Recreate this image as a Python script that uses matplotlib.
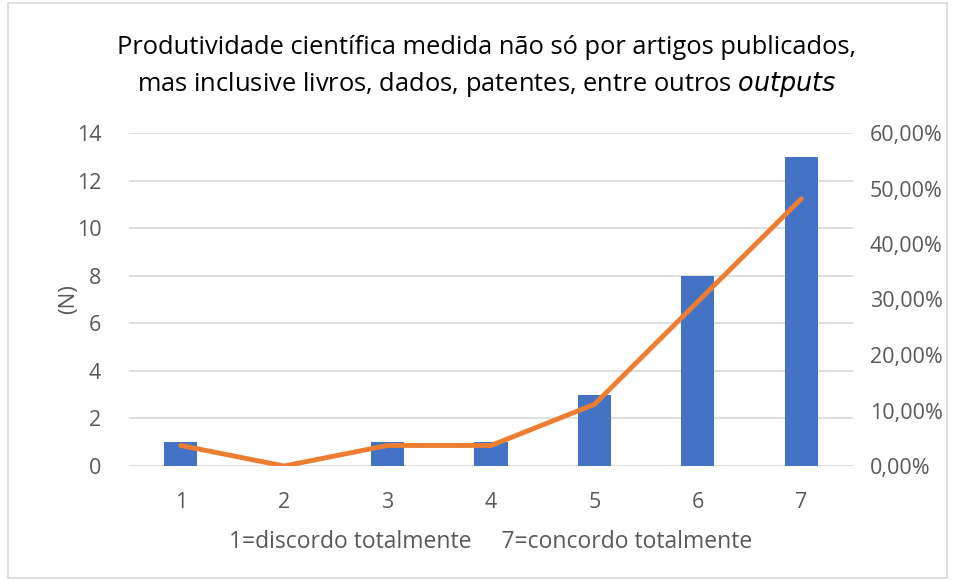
import matplotlib
matplotlib.use("Agg")
import matplotlib.pyplot as plt
from matplotlib.ticker import FuncFormatter
from matplotlib.patches import Rectangle

categories = ["1", "2", "3", "4", "5", "6", "7"]
counts = [1, 0, 1, 1, 3, 8, 13]
percent = [3.70, 0.0, 3.70, 3.70, 11.11, 29.63, 48.15]
left_ticks = [0, 2, 4, 6, 8, 10, 12, 14]
right_ticks = [0, 10, 20, 30, 40, 50, 60]

plt.rcParams['font.family'] = ['Open Sans', 'DejaVu Sans']
text_color = '#595959'

fig = plt.figure(figsize=(9.54, 5.81), dpi=100)
fig.patches.append(Rectangle((8/954, 0.005), 939/954, 0.99, transform=fig.transFigure,
                             fill=False, edgecolor='#d9d9d9', linewidth=1.2))
ax = fig.add_axes([129/954, 1-466/581, 724/954, 333/581])
x = list(range(len(categories)))
ax.bar(x, counts, width=0.32, color='#4472C4', zorder=3)
ax.set_xlim(-0.5, len(categories)-0.5)
ax.set_ylim(0, 14)
ax.set_yticks(left_ticks)
ax.set_xticks(x)
ax.set_xticklabels(categories)
ax.grid(axis='y', color='#d9d9d9', linewidth=1.2, zorder=0)
for s in ax.spines.values():
    s.set_visible(False)
ax.tick_params(axis='both', length=0, labelsize=15.5, colors=text_color, pad=20)
ax.tick_params(axis='x', pad=19)
ax.set_ylabel('(N)', fontsize=16, color=text_color, labelpad=-2)
ax.set_xlabel('1=discordo totalmente     7=concordo totalmente', fontsize=16.5,
              color=text_color, labelpad=12)

ax2 = ax.twinx()
ax2.plot(x, percent, color='#ED7D31', linewidth=3.5, solid_capstyle='round', zorder=4)
ax2.set_ylim(0, 60)
ax2.set_yticks(right_ticks)
ax2.yaxis.set_major_formatter(FuncFormatter(lambda v, p: f"{v:.2f}%".replace('.', ',')))
for s in ax2.spines.values():
    s.set_visible(False)
ax2.tick_params(axis='y', length=0, labelsize=15.5, colors=text_color, pad=12)

fig.text(487/954, 1-67/581,
         "Produtividade científica medida não só por artigos publicados,\nmas inclusive livros, dados, patentes, entre outros $\\it{outputs}$",
         ha='center', va='center', fontsize=18.4, color='#000000', linespacing=1.5)

fig.savefig('out.png', dpi=100)
